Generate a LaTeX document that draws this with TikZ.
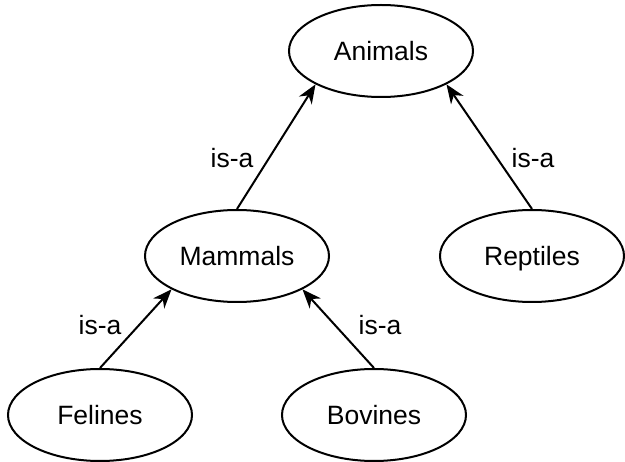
\documentclass[tikz,border=0pt]{standalone}
\usepackage{fontspec}
\setmainfont{Liberation Sans}
\usetikzlibrary{shapes.geometric,arrows.meta}
\begin{document}
\begin{tikzpicture}[x=1pt,y=-1pt,
  concept/.style={ellipse,draw=black,line width=2pt,fill=white,
    minimum width=184pt,minimum height=92pt,inner sep=0pt,
    text height=19pt,text depth=0pt,
    font=\fontsize{26.5}{30}\selectfont},
  isa/.style={-{Stealth[length=19pt,width=15pt,inset=6pt]},line width=2pt},
  lbl/.style={font=\fontsize{26.5}{30}\selectfont,inner sep=0pt}]
\useasboundingbox (0,0) rectangle (625,462);
\node[concept] (animals)  at (381,51)  {Animals};
\node[concept] (mammals)  at (237,256) {Mammals};
\node[concept] (reptiles) at (532,256) {Reptiles};
\node[concept] (felines)  at (100,415) {Felines};
\node[concept] (bovines)  at (374,415) {Bovines};
\draw[isa] (mammals.north)  -- (animals.207);
\draw[isa] (reptiles.north) -- (animals.333);
\draw[isa] (felines.north)  -- (mammals.207);
\draw[isa] (bovines.north)  -- (mammals.333);
\node[lbl] (l1) at (232,158) {is-a};
\node[lbl] (l2) at (533,158) {is-a};
\node[lbl] (l3) at (100,325) {is-a};
\node[lbl] (l4) at (380,325) {is-a};
\end{tikzpicture}
\end{document}
